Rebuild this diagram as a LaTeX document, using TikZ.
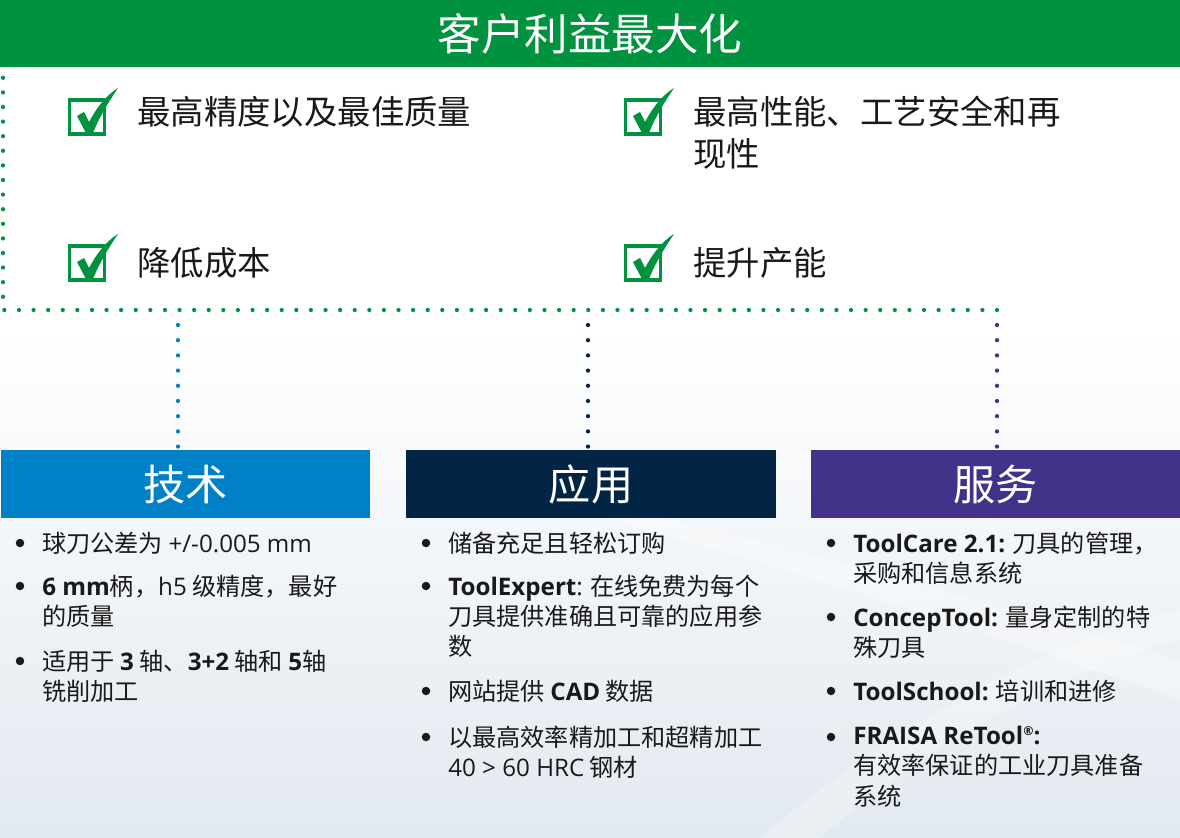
\documentclass[tikz,border=0pt]{standalone}
\usepackage{fontspec}
\setmainfont{Noto Sans CJK SC}
\newfontfamily\lat{Open Sans}

\definecolor{fgreen}{RGB}{0,146,63}
\definecolor{tblue}{RGB}{0,128,199}
\definecolor{anavy}{RGB}{3,37,69}
\definecolor{spurple}{RGB}{66,50,138}
\definecolor{bgc}{RGB}{226,233,240}
\definecolor{ink}{RGB}{25,25,25}

\tikzset{
    pics/tick/.style={
      code={
        \draw[fgreen, line width=0.065cm] (-17.5,-17) rectangle (17.5,17);
        \fill[fgreen] (-10,-1) -- (-3,-5) -- (2,5) .. controls (9,-8) and (18,-21) .. (31,-29)
          .. controls (25,-20) and (13,-2) .. (6,16) -- (-1,16) -- cycle;
      }
    }
  }
\tikzset{
    dots/.style={line width=0.085cm, line cap=round, dash pattern=on 0pt off #1},
    box/.style={minimum width=7.4cm, minimum height=1.36cm, inner sep=0, text=white,
      font=\fontsize{24}{28}\selectfont},
    chk/.style={anchor=north west, inner sep=0, align=left, text=ink,
      font=\fontsize{19}{23.9}\selectfont},
    item/.style={anchor=north west, inner sep=0, align=left, text=ink,
      font=\fontsize{13.75}{17.1}\selectfont},
    bul/.style={circle, fill=ink, inner sep=0, minimum size=0.17cm}
  }

\begin{document}
\begin{tikzpicture}[x=0.02cm, y=-0.02cm]
    \useasboundingbox (0,0) rectangle (1180,838);
    \fill[white] (0,0) rectangle (1180,838);
    \shade[top color=white, bottom color=bgc] (0,330) rectangle (1180,838);
    \fill[white, opacity=0.3] (430,470) .. controls (700,540) and (950,620) .. (1180,700)
      -- (1180,660) .. controls (950,590) and (700,520) .. (430,470) -- cycle;
    \fill[white, opacity=0.25] (760,838) .. controls (900,720) and (1050,640) .. (1180,610)
      -- (1180,640) .. controls (1060,670) and (920,750) .. (820,838) -- cycle;

    \node[fill=fgreen, minimum width=23.6cm, minimum height=1.34cm, inner sep=0, text=white,
      font=\fontsize{24.8}{28}\selectfont] (title) at (590,33.5) {客户利益最大化};

    \coordinate (gtop) at (3,70);
    \coordinate (hubT) at (178,325);
    \coordinate (hubA) at (588,325);
    \coordinate (hubS) at (997,325);
    \coordinate (gend) at (997,310);
    \draw[dots=0.292cm, fgreen] (gend) -| (gtop);

    \draw (87,117) pic{tick};
    \draw (87,263) pic{tick};
    \draw (643,117) pic{tick};
    \draw (643,263) pic{tick};
    \node[chk] (c1) at (137,96) {最高精度以及最佳质量};
    \node[chk] (c2) at (137,247.5) {降低成本};
    \node[chk] (c3) at (693,96) {最高性能、工艺安全和再\\现性};
    \node[chk] (c4) at (693,247.5) {提升产能};

    \node[box, fill=tblue] (tech) at (185.5,484) {技术};
    \node[box, fill=anavy] (appl) at (591,484) {应用};
    \node[box, fill=spurple] (serv) at (995.5,484) {服务};

    \draw[dots=0.304cm, tblue] (hubT) -- (hubT |- tech.north);
    \draw[dots=0.304cm, anavy] (hubA) -- (hubA |- appl.north);
    \draw[dots=0.304cm, spurple] (hubS) -- (hubS |- serv.north);

    % technik
    \node[bul] (t1b) at (20,543) {};
    \node[bul] (t2b) at (20,586) {};
    \node[bul] (t3b) at (20,661) {};
    \node[item] (t1) at (42,532) {球刀公差为 {\lat +/-0.005 mm}};
    \node[item] (t2) at (42,575) {{\lat\bfseries 6 mm}柄，{\lat h5} 级精度，最好\\的质量};
    \node[item] (t3) at (42,650) {适用于 {\lat\bfseries 3} 轴、{\lat\bfseries 3+2} 轴和 {\lat\bfseries 5}轴\\铣削加工};

    % anwendung
    \node[bul] (a1b) at (426,543) {};
    \node[bul] (a2b) at (426,586) {};
    \node[bul] (a3b) at (426,691) {};
    \node[bul] (a4b) at (426,737) {};
    \node[item] (a1) at (448,532) {储备充足且轻松订购};
    \node[item] (a2) at (448,575) {{\lat\bfseries ToolExpert}{\lat :} 在线免费为每个\\刀具提供准确且可靠的应用参\\数};
    \node[item] (a3) at (448,680) {网站提供 {\lat\bfseries CAD} 数据};
    \node[item] (a4) at (448,726) {以最高效率精加工和超精加工\\{\lat 40 > 60 HRC} 钢材};

    % service
    \node[bul] (s1b) at (831,543) {};
    \node[bul] (s2b) at (831,617) {};
    \node[bul] (s3b) at (831,691) {};
    \node[bul] (s4b) at (831,737) {};
    \node[item] (s1) at (853,532) {{\lat\bfseries ToolCare 2.1:} 刀具的管理，\\采购和信息系统};
    \node[item] (s2) at (853,606) {{\lat\bfseries ConcepTool:} 量身定制的特\\殊刀具};
    \node[item] (s3) at (853,680) {{\lat\bfseries ToolSchool:} 培训和进修};
    \node[item] (s4) at (853,726) {{\lat\bfseries FRAISA ReTool\raisebox{0.4em}{\fontsize{7}{7}\selectfont ®}:}\\有效率保证的工业刀具准备\\系统};
  \end{tikzpicture}
\end{document}
